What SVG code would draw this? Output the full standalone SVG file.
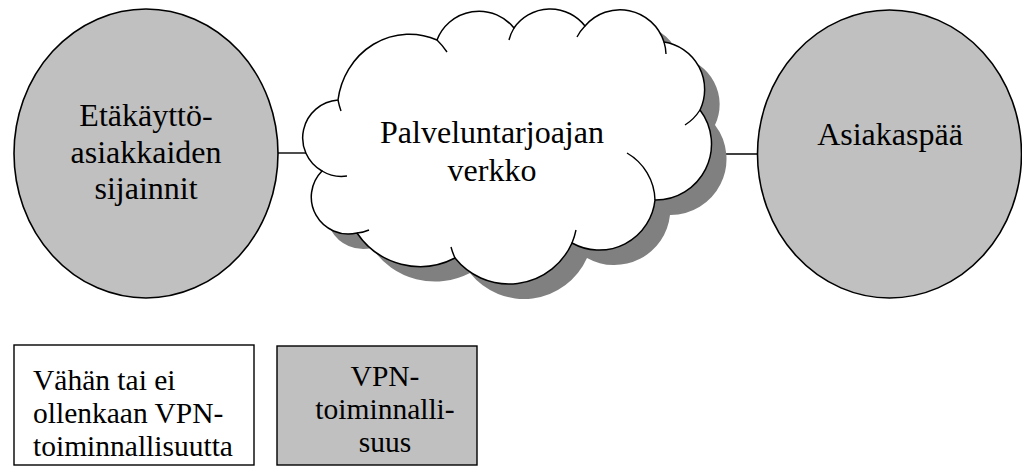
<svg xmlns="http://www.w3.org/2000/svg" width="1022" height="466" viewBox="0 0 1022 466">
<style>
.t{font-family:"Liberation Serif","Tinos","Times New Roman","Nimbus Roman","DejaVu Serif","Noto Serif",serif;fill:#000}
.big{font-size:32px;text-anchor:middle}
.sm{font-size:29.5px}
.node{fill:#c0c0c0;stroke:#000;stroke-width:1.6}
.box{stroke:#000;stroke-width:1.4}
.edge{stroke:#000;stroke-width:1.4;fill:none}
.tick{fill:none;stroke:#000;stroke-width:1.4}
</style>
<defs>
<path id="cloudOuter" d="M338 100 A72 76 0 0 1 437 40 A45 45 0 0 1 514 28 A44 44 0 0 1 585 26 A46 46 0 0 1 664 42 A48 48 0 0 1 700 110 A56 56 0 0 1 655 200 A56 56 0 0 1 572 243 A69 69 0 0 1 455 258 A76 76 0 0 1 357 233 A37 37 0 0 1 322 171 A38 38 0 0 1 338 100 Z"/>
</defs>
<rect width="1022" height="466" fill="#fff"/>
<g id="connectors">
<line class="edge" x1="277" y1="153" x2="306" y2="153"/>
<line class="edge" x1="700" y1="154" x2="758" y2="154"/>
</g>
<g id="node-left">
<ellipse class="node" cx="146" cy="153.5" rx="132" ry="144.5"/>
<text class="t big" x="146" y="126">Etäkäyttö-</text>
<text class="t big" x="146" y="163">asiakkaiden</text>
<text class="t big" x="146" y="199">sijainnit</text>
</g>
<g id="node-cloud">
<use href="#cloudOuter" transform="translate(15,15)" fill="#808080" stroke="none"/>
<use href="#cloudOuter" fill="#fff" stroke="#000" stroke-width="1.5"/>
<path class="tick" d="M338 100 A72 76 0 0 0 341 111 M437 40 A72 76 0 0 1 447 52 M514 28 A44 44 0 0 0 509 40 M585 26 A46 46 0 0 0 577 37 M664 42 A46 46 0 0 1 666 54 M700 110 A48 48 0 0 1 685 125 M655 200 A56 56 0 0 0 627 153 M572 243 A69 69 0 0 0 576 230 M455 258 A69 69 0 0 1 451 247 M357 233 A37 37 0 0 0 369 230 M322 171 A38 38 0 0 0 347 176"/>
<text class="t big" x="492" y="143">Palveluntarjoajan</text>
<text class="t big" x="492" y="181">verkko</text>
</g>
<g id="node-right">
<ellipse class="node" cx="889.5" cy="154" rx="132" ry="144"/>
<text class="t big" x="890" y="145">Asiakaspää</text>
</g>
<g id="legend-none">
<rect class="box" x="14" y="345" width="240" height="120" fill="#fff"/>
<text class="t sm" x="33" y="390">Vähän tai ei</text>
<text class="t sm" x="33" y="423">ollenkaan VPN-</text>
<text class="t sm" x="33" y="456">toiminnallisuutta</text>
</g>
<g id="legend-vpn">
<rect class="box" x="277" y="346" width="200" height="119" fill="#c0c0c0"/>
<text class="t sm" x="385" y="386" text-anchor="middle">VPN-</text>
<text class="t sm" x="385" y="419" text-anchor="middle">toiminnalli-</text>
<text class="t sm" x="385" y="452" text-anchor="middle">suus</text>
</g>
</svg>
